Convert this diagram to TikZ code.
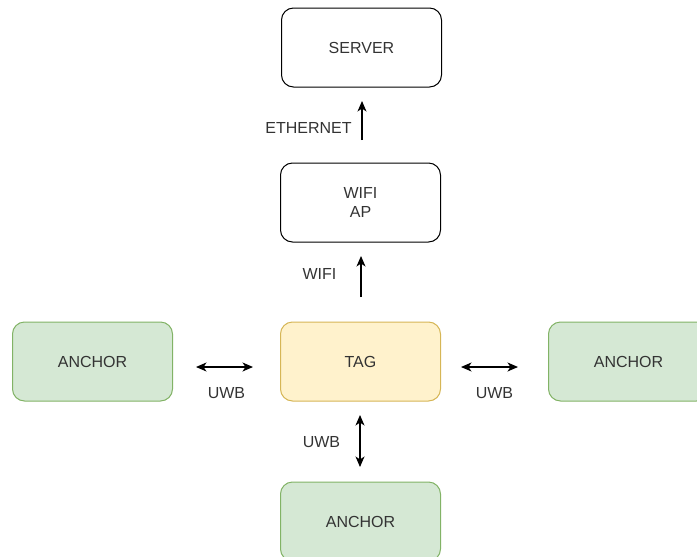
\documentclass[tikz,border=0pt]{standalone}
\usepackage{fontspec}
\setmainfont{Liberation Sans}
\usetikzlibrary{arrows.meta}
\definecolor{txt}{HTML}{333333}
\definecolor{greenfill}{HTML}{D5E8D4}
\definecolor{greenline}{HTML}{82B366}
\definecolor{yellowfill}{HTML}{FFF2CC}
\definecolor{yellowline}{HTML}{D6B656}
\tikzset{
  box/.style={draw=black, line width=1pt, rounded corners=12pt, minimum width=160pt,
    minimum height=79pt, inner sep=0pt, align=center, text=txt,
    font=\fontsize{16}{19}\selectfont},
  anchorbox/.style={box, draw=greenline, fill=greenfill},
  tagbox/.style={box, draw=yellowline, fill=yellowfill},
  lbl/.style={text=txt, inner sep=0pt, font=\fontsize{16}{19}\selectfont},
  tip/.style={Stealth[length=10.5pt,width=9pt,inset=3pt]},
  link/.style={line width=1.3pt, -{Stealth[length=10.5pt,width=9pt,inset=3pt]}},
  twoway/.style={line width=1.3pt, {Stealth[length=10.5pt,width=9pt,inset=3pt]}-{Stealth[length=10.5pt,width=9pt,inset=3pt]}}
}
\begin{document}
\begin{tikzpicture}[x=1pt,y=-1pt]
  \useasboundingbox (0,0) rectangle (697,557);
  \clip (0,0) rectangle (697,557);
  % boxes
  \node[box] (server) at (361.5,47.5) {SERVER};
  \node[box] (ap) at (360.5,202.5) {WIFI\\AP};
  \node[tagbox] (tag) at (360.5,361.5) {TAG};
  \node[anchorbox] (aleft) at (92.5,361.5) {ANCHOR};
  \node[anchorbox] (aright) at (628.5,361.5) {ANCHOR};
  \node[anchorbox] (abottom) at (360.5,521.5) {ANCHOR};
  % free-floating link arrows
  \coordinate (e1) at (362,140);
  \coordinate (e2) at (362,101);
  \coordinate (w1) at (361,297);
  \coordinate (w2) at (361,256);
  \coordinate (l1) at (196,367);
  \coordinate (l2) at (253,367);
  \coordinate (r1) at (461,367);
  \coordinate (r2) at (518,367);
  \coordinate (b1) at (360,415);
  \coordinate (b2) at (360,467);
  \draw[link] (e1) -- (e2);
  \draw[link] (w1) -- (w2);
  \draw[twoway] (l1) -- (l2);
  \draw[twoway] (r1) -- (r2);
  \draw[twoway] (b1) -- (b2);
  % link labels
  \node[lbl] (leth) at (308.5,127.5) {ETHERNET};
  \node[lbl] (lwifi) at (319.5,274) {WIFI};
  \node[lbl] (luwbl) at (226.5,393) {UWB};
  \node[lbl] (luwbr) at (494.5,393) {UWB};
  \node[lbl] (luwbb) at (321.5,442) {UWB};
\end{tikzpicture}
\end{document}
